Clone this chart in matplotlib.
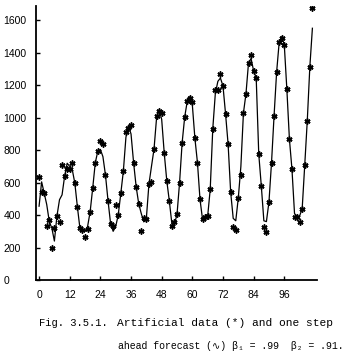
import matplotlib
matplotlib.use("Agg")
import matplotlib.pyplot as plt
import numpy as np

# artificial monthly series (stars)
observed = [638, 542, 536, 330, 370, 197, 323, 395, 360, 708,
            640, 683, 683, 719, 597, 451, 318, 311, 267, 317,
            422, 567, 722, 795, 857, 837, 646, 488, 347, 331,
            460, 402, 534, 672, 911, 940, 956, 724, 576, 471,
            302, 383, 377, 590, 604, 807, 1010, 1039, 1031, 782,
            611, 486, 331, 356, 404, 600, 845, 1004, 1101, 1122,
            1098, 874, 724, 497, 373, 387, 393, 559, 932, 1170,
            1170, 1273, 1196, 1025, 838, 542, 327, 310, 507, 646,
            1029, 1149, 1340, 1387, 1288, 1246, 776, 580, 325, 296,
            482, 724, 1014, 1283, 1466, 1494, 1449, 1176, 869, 683,
            389, 389, 356, 439, 708, 983, 1315, 1677]

# one step ahead forecast (line)
forecast = [455, 605, 536, 465, 360, 320, 240, 395, 495, 525,
            640, 720, 700, 680, 597, 451, 318, 305, 300, 330,
            422, 567, 722, 795, 805, 760, 646, 488, 347, 300,
            330, 402, 534, 672, 880, 950, 900, 724, 576, 471,
            410, 358, 380, 590, 700, 807, 1000, 1050, 990, 782,
            611, 486, 345, 345, 404, 600, 845, 1004, 1101, 1130,
            1080, 874, 724, 497, 373, 372, 393, 559, 932, 1150,
            1225, 1245, 1196, 1025, 838, 542, 380, 365, 507, 700,
            1029, 1149, 1340, 1365, 1288, 1246, 776, 580, 365, 360,
            482, 724, 1014, 1283, 1466, 1500, 1449, 1176, 869, 683,
            410, 390, 395, 439, 708, 983, 1315, 1552]

x_ticks = [0, 12, 24, 36, 48, 60, 72, 84, 96]
y_ticks = [0, 200, 400, 600, 800, 1000, 1200, 1400, 1600]

t = np.arange(len(observed))

W, H = 353, 351
fig = plt.figure(figsize=(W / 100, H / 100), dpi=100)
ax = fig.add_axes([0.102, 0.2023, 0.796, 0.781])

ax.plot(t, forecast, color='black', lw=0.9)
ax.plot(t, observed, ls='none', marker=(6, 2, 0), ms=4.3, mew=1.1, color='black')

ax.set_xlim(-1.2, 108.8)
ax.set_ylim(0, 1690)
ax.spines['top'].set_visible(False)
ax.spines['right'].set_visible(False)
ax.spines['left'].set_linewidth(1.3)
ax.spines['bottom'].set_linewidth(1.3)

ax.set_xticks(x_ticks)
ax.set_yticks(y_ticks)
ax.tick_params(direction='in', length=3, width=1, labelsize=7.5)
ax.tick_params(axis='x', pad=7)
ax.tick_params(axis='y', pad=23.5)
for lab in ax.get_xticklabels() + ax.get_yticklabels():
    lab.set_family('Liberation Sans')
for lab in ax.get_yticklabels():
    lab.set_ha('left')

# typewritten caption
mono = ['Liberation Mono', 'DejaVu Sans Mono', 'DejaVu Sans']
fig.text(39 / W, 0.0726, 'Fig. 3.5.1.', family=mono, fontsize=7.6)
fig.text(117 / W, 0.0726, 'Artificial data (*) and one step', family=mono, fontsize=8.1)
fig.text(118 / W, 0.006, 'ahead forecast (\u223f) \u03b2\u2081 = .99  \u03b2\u2082 = .91.',
         family=mono, fontsize=7.1)

fig.savefig('out.png', dpi=100)
